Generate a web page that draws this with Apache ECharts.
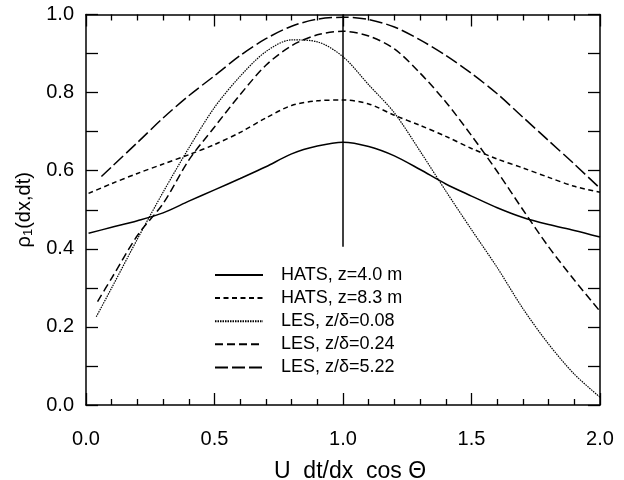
<!DOCTYPE html>
<html>
<head>
<meta charset="utf-8">
<script src="https://cdn.jsdelivr.net/npm/echarts@6/dist/echarts.min.js"></script>
<style>
  html, body { margin: 0; padding: 0; background: #fff; }
  #chart { width: 624px; height: 480px; }
</style>
</head>
<body>
<div id="chart"></div>
<script>
// x positions shared by all curves (first point of each curve is given separately)
const xs = [0.1, 0.2, 0.3, 0.4, 0.5, 0.6, 0.7, 0.8, 0.9, 1.0,
            1.1, 1.2, 1.3, 1.4, 1.5, 1.6, 1.7, 1.8, 1.9, 2.0];

// HATS, z=4.0 m
const hats40Start = [0.01, 0.440];
const hats40 = [0.455, 0.472, 0.492, 0.522, 0.551, 0.580, 0.610, 0.643, 0.663, 0.673,
                0.662, 0.638, 0.603, 0.566, 0.535, 0.505, 0.480, 0.462, 0.447, 0.430];
// HATS, z=8.3 m
const hats83Start = [0.01, 0.542];
const hats83 = [0.567, 0.593, 0.617, 0.641, 0.667, 0.698, 0.735, 0.767, 0.779, 0.781,
                0.771, 0.742, 0.716, 0.688, 0.657, 0.630, 0.607, 0.583, 0.560, 0.545];
// LES, z/δ=0.08
const les008Start = [0.04, 0.226];
const les008 = [0.300, 0.425, 0.545, 0.658, 0.762, 0.842, 0.905, 0.935, 0.930, 0.892,
                0.820, 0.748, 0.650, 0.548, 0.449, 0.352, 0.247, 0.156, 0.079, 0.020];
// LES, z/δ=0.24
const les024Start = [0.045, 0.265];
const les024 = [0.325, 0.434, 0.516, 0.627, 0.712, 0.795, 0.870, 0.920, 0.948, 0.957,
                0.945, 0.912, 0.850, 0.776, 0.690, 0.598, 0.500, 0.405, 0.320, 0.240];
// LES, z/δ=5.22
const les522Start = [0.06, 0.585];
const les522 = [0.610, 0.672, 0.735, 0.792, 0.843, 0.895, 0.938, 0.970, 0.988, 0.993,
                0.987, 0.968, 0.935, 0.895, 0.849, 0.797, 0.737, 0.677, 0.617, 0.555];

// vertical marker at U dt/dx cos Θ = 1
const markerX = 1.0;
const markerY = [0.405, 1.0];

const xTicks = ['0.0', '0.5', '1.0', '1.5', '2.0'];
const names = ['HATS, z=4.0 m', 'HATS, z=8.3 m', 'LES, z/δ=0.08', 'LES, z/δ=0.24', 'LES, z/δ=5.22'];

function pairs(start, ys) {
  return [start].concat(ys.map(function (y, i) { return [xs[i], y]; }));
}

const font = 'Liberation Sans, Arial, Helvetica, sans-serif';

const chart = echarts.init(document.getElementById('chart'), null, { renderer: 'canvas' });

function curve(name, start, ys, type, width) {
  return {
    name: name,
    type: 'line',
    data: pairs(start, ys),
    symbol: 'none',
    smooth: 0.3,
    lineStyle: { color: '#000', width: width, type: type },
    itemStyle: { color: '#000' },
    z: 3
  };
}

// frame axis pieces; inside ticks on every side
function line() {
  return { show: true, onZero: false, lineStyle: { color: '#000', width: 1.5 } };
}
function tick(len) {
  return { show: true, inside: true, length: len, lineStyle: { color: '#000', width: 1.3 } };
}
function minor(n, len) {
  return { show: true, splitNumber: n, length: len, lineStyle: { color: '#000', width: 1.3 } };
}

const option = {
  animation: false,
  backgroundColor: '#fff',
  grid: { left: 86, right: 24, top: 14.5, bottom: 75, containLabel: false, outerBoundsMode: 'none' },
  legend: {
    show: true,
    orient: 'vertical',
    left: 209,
    top: 261,
    itemWidth: 48,
    itemHeight: 14,
    itemGap: 5.1,
    itemStyle: { opacity: 0 },
    textStyle: { color: '#000', fontSize: 18, fontFamily: font, padding: [0, 0, 0, 13] },
    data: names
  },
  xAxis: [{
    type: 'value',
    min: 0, max: 2, interval: 0.5,
    name: 'U  dt/dx  cos Θ',
    nameLocation: 'middle',
    nameGap: 55,
    nameTextStyle: { color: '#000', fontSize: 23, fontFamily: font, padding: [0, 0, 0, 14] },
    axisLine: line(),
    axisTick: tick(12),
    minorTick: minor(5, 6),
    axisLabel: {
      color: '#000', fontSize: 20, fontFamily: font, margin: 24,
      formatter: function (v) { return xTicks[Math.round(v * 2)]; }
    },
    splitLine: { show: false }
  }, {
    type: 'value',
    position: 'top',
    min: 0, max: 2, interval: 0.5,
    axisLine: line(),
    axisTick: tick(12),
    minorTick: minor(5, 6),
    axisLabel: { show: false },
    splitLine: { show: false }
  }],
  yAxis: [{
    type: 'value',
    min: 0, max: 1, interval: 0.2,
    name: '{n|ρ}{s|1}{n|(dx,dt)}',
    nameLocation: 'middle',
    nameGap: 36,
    nameRotate: 90,
    nameTextStyle: {
      color: '#000', fontFamily: font,
      rich: {
        n: { fontSize: 20, fontFamily: font, color: '#000' },
        s: { fontSize: 13, fontFamily: font, color: '#000', verticalAlign: 'bottom', padding: [8, 0, 0, 0] }
      }
    },
    axisLine: line(),
    axisTick: tick(12),
    minorTick: minor(2, 12),
    axisLabel: {
      color: '#000', fontSize: 20, fontFamily: font, margin: 12,
      formatter: function (v) { return v.toFixed(1); }
    },
    splitLine: { show: false }
  }, {
    type: 'value',
    position: 'right',
    min: 0, max: 1, interval: 0.2,
    axisLine: line(),
    axisTick: tick(12),
    minorTick: minor(2, 12),
    axisLabel: { show: false },
    splitLine: { show: false }
  }],
  series: [
    curve(names[0], hats40Start, hats40, 'solid', 1.5),
    curve(names[1], hats83Start, hats83, [5, 3.5], 1.5),
    curve(names[2], les008Start, les008, [1.5, 1], 1.2),
    curve(names[3], les024Start, les024, [8, 4], 1.5),
    curve(names[4], les522Start, les522, [13, 4], 1.5),
    {
      name: 'marker',
      type: 'line',
      data: markerY.map(function (y) { return [markerX, y]; }),
      symbol: 'none',
      lineStyle: { color: '#000', width: 1.5 },
      z: 2
    }
  ]
};

chart.setOption(option);
</script>
</body>
</html>
